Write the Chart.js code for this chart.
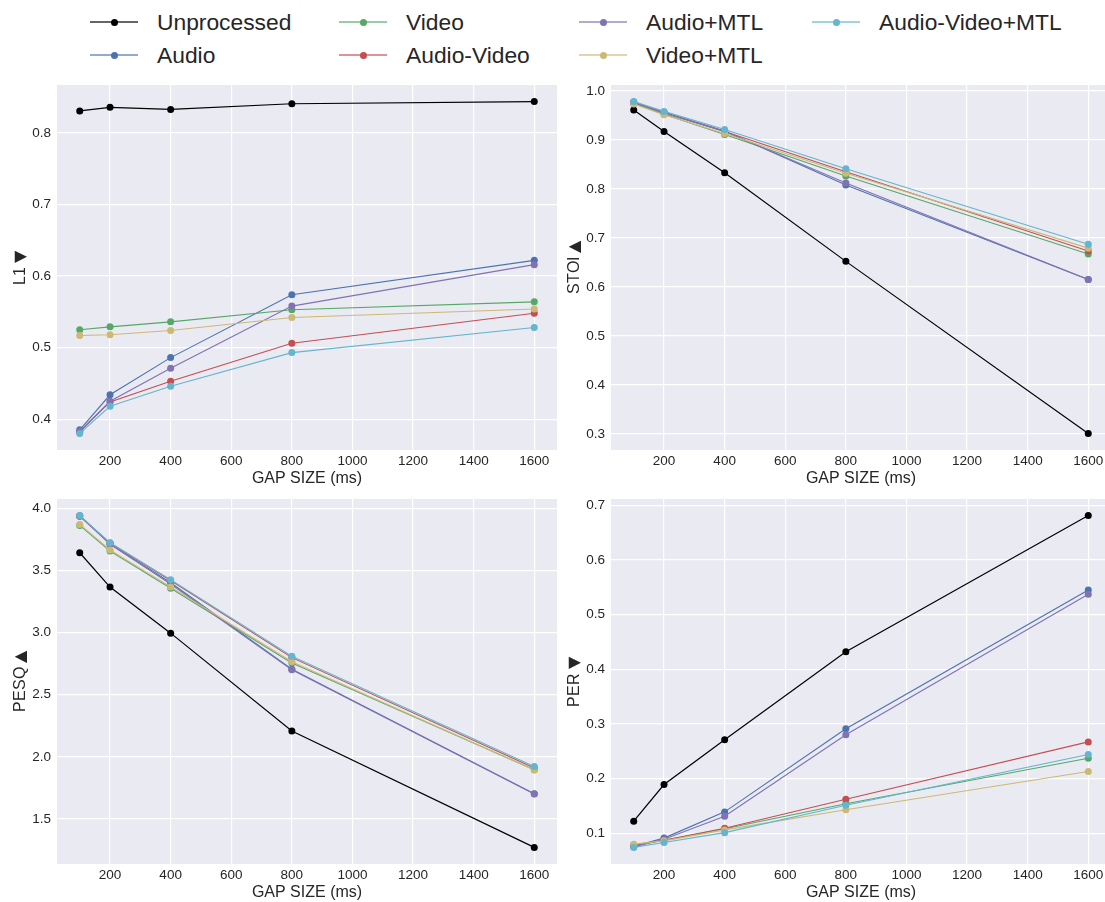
<!DOCTYPE html>
<html>
<head>
<meta charset="utf-8">
<script src="https://cdn.jsdelivr.net/npm/chart.js@4/dist/chart.umd.min.js"></script>
<style>
  /* the triangles in the axis titles come from DejaVu Sans, the letters from Liberation Sans */
  @font-face { font-family: "AxisTitle"; src: local("DejaVu Sans"); unicode-range: U+25B2, U+25BC; }
  @font-face { font-family: "AxisTitle"; src: local("Liberation Sans"); unicode-range: U+0000-00FF; }
  html, body { margin: 0; padding: 0; background: #fff; }
  #page {
    position: relative; width: 1105px; height: 902px; overflow: hidden;
    font-family: "Liberation Sans", Arial, "DejaVu Sans", sans-serif; color: #262626;
  }
  .panel { position: absolute; }
  .item {
    position: absolute; height: 30px; display: flex; align-items: center;
    font-size: 22.8px; white-space: nowrap;
  }
  .handle { position: relative; width: 48px; height: 2px; margin-right: 19px; }
  .handle .line { position: absolute; left: 0; top: 0; width: 100%; height: 100%; opacity: 0.6; }
  .handle .dot {
    position: absolute; left: 20.5px; top: -2.5px; width: 7px; height: 7px; border-radius: 50%;
  }
</style>
</head>
<body>
<div id="page">
  <div id="legend"></div>
  <canvas id="l1Chart" class="panel"></canvas>
  <canvas id="stoiChart" class="panel"></canvas>
  <canvas id="pesqChart" class="panel"></canvas>
  <canvas id="perChart" class="panel"></canvas>
</div>
<script>
const gapSizes = [100, 200, 400, 800, 1600];
const xTicks = [200, 400, 600, 800, 1000, 1200, 1400, 1600];

const seriesNames = ['Unprocessed', 'Audio', 'Video', 'Audio-Video', 'Audio+MTL', 'Video+MTL', 'Audio-Video+MTL'];
const seriesColors = ['#000000', '#4C72B0', '#55A868', '#C44E52', '#8172B2', '#CCB974', '#64B5CD'];

// one row per series, same order as seriesNames
const l1Values = [
  [0.831, 0.836, 0.833, 0.841, 0.844],
  [0.385, 0.434, 0.486, 0.574, 0.622],
  [0.525, 0.529, 0.536, 0.553, 0.564],
  [0.382, 0.424, 0.453, 0.506, 0.548],
  [0.383, 0.425, 0.471, 0.558, 0.616],
  [0.517, 0.518, 0.524, 0.542, 0.554],
  [0.380, 0.418, 0.446, 0.493, 0.528]
];
const stoiValues = [
  [0.961, 0.917, 0.833, 0.652, 0.301],
  [0.977, 0.956, 0.918, 0.808, 0.615],
  [0.974, 0.952, 0.911, 0.826, 0.667],
  [0.976, 0.955, 0.917, 0.835, 0.673],
  [0.976, 0.955, 0.917, 0.812, 0.615],
  [0.973, 0.951, 0.913, 0.832, 0.679],
  [0.978, 0.958, 0.921, 0.841, 0.687]
];
const pesqValues = [
  [3.642, 3.366, 2.995, 2.207, 1.271],
  [3.940, 3.715, 3.400, 2.704, 1.702],
  [3.862, 3.656, 3.356, 2.755, 1.895],
  [3.935, 3.720, 3.418, 2.798, 1.910],
  [3.938, 3.710, 3.390, 2.700, 1.700],
  [3.870, 3.664, 3.366, 2.765, 1.893],
  [3.941, 3.723, 3.425, 2.809, 1.922]
];
const perValues = [
  [0.122, 0.189, 0.271, 0.432, 0.681],
  [0.076, 0.091, 0.139, 0.291, 0.545],
  [0.079, 0.087, 0.108, 0.154, 0.237],
  [0.077, 0.087, 0.109, 0.162, 0.267],
  [0.075, 0.089, 0.131, 0.280, 0.537],
  [0.080, 0.086, 0.106, 0.143, 0.213],
  [0.074, 0.083, 0.101, 0.151, 0.244]
];

const l1Ticks = [0.4, 0.5, 0.6, 0.7, 0.8];
const stoiTicks = [0.3, 0.4, 0.5, 0.6, 0.7, 0.8, 0.9, 1.0];
const pesqTicks = [1.5, 2.0, 2.5, 3.0, 3.5, 4.0];
const perTicks = [0.1, 0.2, 0.3, 0.4, 0.5, 0.6, 0.7];

const FONT = '"Liberation Sans", Arial, "DejaVu Sans", sans-serif';
Chart.defaults.font.family = FONT;
Chart.defaults.color = '#262626';

// 5% margin on each side, like matplotlib autoscaling
function padRange(values) {
  const lo = Math.min(...values), hi = Math.max(...values);
  const m = (hi - lo) * 0.05;
  return [lo - m, hi + m];
}

// keep the axis boxes at a fixed size and stop label overhang from shrinking the plot
function fixBox(size, horizontal) {
  return s => {
    if (horizontal) s.height = size; else s.width = size;
    s.paddingTop = 0; s.paddingBottom = 0; s.paddingLeft = 0; s.paddingRight = 0;
  };
}

const plotBackground = {
  id: 'plotBackground',
  beforeDraw(chart) {
    const { ctx, chartArea: a } = chart;
    ctx.save();
    ctx.fillStyle = '#EAEAF2';
    ctx.fillRect(a.left, a.top, a.right - a.left, a.bottom - a.top);
    ctx.restore();
  }
};

function makePanel(id, left, top, rows, yTitle, yTicks) {
  const canvas = document.getElementById(id);
  canvas.width = 557;
  canvas.height = 412;
  canvas.style.left = left + 'px';
  canvas.style.top = top + 'px';

  const [xMin, xMax] = padRange(gapSizes);
  const [yMin, yMax] = padRange(rows.flat());

  return new Chart(canvas.getContext('2d'), {
    type: 'line',
    data: {
      datasets: rows.map((vals, i) => ({
        label: seriesNames[i],
        data: vals.map((v, j) => ({ x: gapSizes[j], y: v })),
        borderColor: seriesColors[i],
        backgroundColor: seriesColors[i],
        pointBackgroundColor: seriesColors[i],
        borderWidth: i === 0 ? 1.2 : 1.1,
        pointRadius: 3.5,
        pointBorderWidth: 0,
        tension: 0,
        clip: false,
        order: -i
      }))
    },
    options: {
      responsive: false,
      animation: false,
      layout: { autoPadding: false, padding: { top: 5, left: 0, right: 0, bottom: 0 } },
      plugins: { legend: { display: false }, tooltip: { enabled: false } },
      scales: {
        x: {
          type: 'linear',
          min: xMin,
          max: xMax,
          afterBuildTicks: s => { s.ticks = xTicks.map(v => ({ value: v })); },
          afterFit: fixBox(42, true),
          grid: { color: '#ffffff', lineWidth: 1.2, drawTicks: false },
          border: { display: false },
          ticks: { font: { size: 13.5 }, padding: 3, maxRotation: 0, callback: v => String(v) },
          title: { display: true, text: 'GAP SIZE (ms)', font: { size: 16 }, padding: { bottom: 3.4 } }
        },
        y: {
          type: 'linear',
          min: yMin,
          max: yMax,
          afterBuildTicks: s => { s.ticks = yTicks.map(v => ({ value: v })); },
          afterFit: fixBox(57, false),
          grid: { color: '#ffffff', lineWidth: 1.2, drawTicks: false },
          border: { display: false },
          ticks: { font: { size: 13.5 }, padding: 6, callback: v => v.toFixed(1) },
          title: {
            display: true, text: yTitle,
            font: { size: 16, family: 'AxisTitle, ' + FONT },
            padding: { top: 11 }
          }
        }
      }
    },
    plugins: [plotBackground]
  });
}

// shared legend: two rows, filled column by column
const legendCols = [90, 339, 579, 812];
const legendRows = [22, 55];
const legend = document.getElementById('legend');
seriesNames.forEach((name, i) => {
  const item = document.createElement('div');
  item.className = 'item';
  item.style.left = legendCols[Math.floor(i / 2)] + 'px';
  item.style.top = (legendRows[i % 2] - 15) + 'px';
  item.innerHTML =
    '<div class="handle"><div class="line" style="background:' + seriesColors[i] + '"></div>' +
    '<div class="dot" style="background:' + seriesColors[i] + '"></div></div>' +
    '<span>' + name + '</span>';
  legend.appendChild(item);
});

function drawAll() {
  makePanel('l1Chart', 0, 80, l1Values, 'L1 ▼', l1Ticks);
  makePanel('stoiChart', 554, 80, stoiValues, 'STOI ▲', stoiTicks);
  makePanel('pesqChart', 0, 494, pesqValues, 'PESQ ▲', pesqTicks);
  makePanel('perChart', 554, 494, perValues, 'PER ▼', perTicks);
}

Promise.all([
  document.fonts.load('16px AxisTitle', 'L1 ▼▲'),
  document.fonts.load('13.5px "Liberation Sans"', '0.1')
]).then(drawAll, drawAll);
</script>
</body>
</html>
